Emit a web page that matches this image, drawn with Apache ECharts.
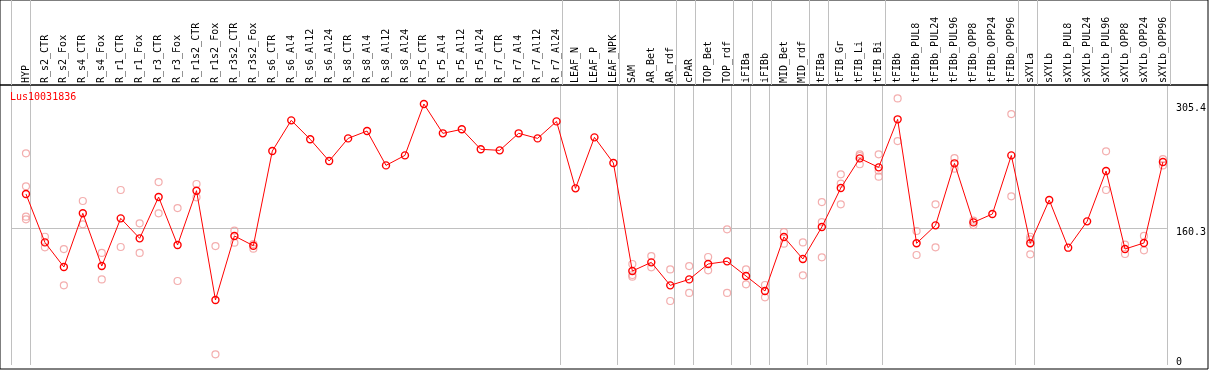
<!DOCTYPE html>
<html>
<head>
<meta charset="utf-8">
<title>Lus10031836</title>
<script src="https://cdn.jsdelivr.net/npm/echarts@6/dist/echarts.min.js"></script>
<style>
    body{margin:0;background:#fff;}
    #chart{width:1209px;height:370px;}
</style>
</head>
<body>
<div id="chart"></div>
<script>
// sample names, in plot order
var categories = ['HYP','R_s2_CTR','R_s2_Fox','R_s4_CTR','R_s4_Fox','R_r1_CTR','R_r1_Fox','R_r3_CTR','R_r3_Fox',
    'R_r1s2_CTR','R_r1s2_Fox','R_r3s2_CTR','R_r3s2_Fox','R_s6_CTR','R_s6_Al4','R_s6_Al12','R_s6_Al24',
    'R_s8_CTR','R_s8_Al4','R_s8_Al12','R_s8_Al24','R_r5_CTR','R_r5_Al4','R_r5_Al12','R_r5_Al24',
    'R_r7_CTR','R_r7_Al4','R_r7_Al12','R_r7_Al24','LEAF_N','LEAF_P','LEAF_NPK','SAM','AR_Bet','AR_rdf',
    'cPAR','TOP_Bet','TOP_rdf','iFIBa','iFIBb','MID_Bet','MID_rdf','tFIBa','tFIB_Gr','tFIB_Li','tFIB_Bi',
    'tFIBb','tFIBb_PUL8','tFIBb_PUL24','tFIBb_PUL96','tFIBb_OPP8','tFIBb_OPP24','tFIBb_OPP96',
    'sXYLa','sXYLb','sXYLb_PUL8','sXYLb_PUL24','sXYLb_PUL96','sXYLb_OPP8','sXYLb_OPP24','sXYLb_OPP96'];

// mean expression per sample
var means = [200.1,143.5,114.7,177.5,115.8,171.6,148.2,196.6,140.4,
    204.0,76.1,151.0,139.6,250.4,286.3,264.1,238.7,
    265.2,273.8,233.6,245.3,305.4,271.1,275.8,252.4,
    251.2,271.1,265.2,285.1,206.7,266.4,236.4,110.0,120.1,93.2,
    100.2,118.2,121.3,104.1,86.6,149.8,124.0,161.5,207.1,241.8,231.3,
    287.5,142.4,163.4,236.0,166.9,176.7,245.3,
    142.4,193.1,137.3,168.1,227.0,135.7,142.8,237.5];

// replicate values (null = no replicate shown)
var repA = [247.7,150.1,135.7,191.9,131.1,204.8,165.8,214.1,183.7,
    211.8,139.2,157.2,141.6,null,null,null,null,
    null,null,null,null,null,null,null,null,
    null,null,null,null,null,null,null,118.2,127.5,111.9,
    115.8,126.4,158.8,111.9,93.6,155.6,143.5,190.7,223.1,246.5,246.5,
    312.0,156.8,188.0,242.2,168.9,null,293.7,
    150.1,null,null,null,250.0,140.8,151.0,241.0];
var repB = [209.1,137.7,93.2,164.6,100.2,138.1,131.1,177.5,98.3,
    196.2,12.5,143.1,136.1,null,null,null,null,
    null,null,null,null,null,null,null,null,
    null,null,null,null,null,null,null,105.3,114.3,74.9,
    84.3,110.8,84.3,94.4,79.2,142.0,104.9,167.3,212.2,244.6,227.4,
    262.1,128.7,137.7,229.7,163.8,null,197.4,
    147.0,null,null,null,204.8,129.9,134.2,233.6];
var repC = [173.6,null,null,null,null,null,null,null,null,
    null,null,null,null,null,null,null,null,
    null,null,null,null,null,null,null,null,
    null,null,null,null,null,null,null,103.4,null,null,
    null,null,null,null,null,null,null,126.0,188.0,234.9,220.4,
    null,null,null,null,null,null,null,
    129.5,null,null,null,null,null,null,null];
var repD = [170.5];

// index where each sample group starts (grey separators)
var groupStarts = [0,1,29,32,35,36,38,39,40,42,43,46,53,54,61];

var yTicks = [0, 160.3, 305.4];
var yGrid = [160.3];

var shift = 0.79;   // points sit right of the column centre
var xMin = -shift, xMax = categories.length - shift;
var sepValues = groupStarts.map(function (k) { return k - shift; });
var monoFont = 'DejaVu Sans Mono';

var lineData = means.map(function (v, i) { return [i, v]; });
var repData = [];
[repA, repB, repC, repD].forEach(function (arr) {
    arr.forEach(function (v, i) {
        if (v !== null && v !== undefined) repData.push([i, v]);
    });
});

var chart = echarts.init(document.getElementById('chart'));
var option = {
    animation: false,
    title: {
        text: 'Lus10031836',
        left: 10, top: 92, padding: 0,
        textStyle: {color: '#ff0000', fontSize: 10, fontWeight: 'normal', fontFamily: monoFont}
    },
    grid: [
        {left: 11, right: 39, top: 86, bottom: 5},
        {left: 11, right: 39, top: 0, height: 85},
        {left: 0, right: 1, top: 0, height: 85, show: true, borderColor: '#000', borderWidth: 1, backgroundColor: 'transparent'},
        {left: 0, right: 1, top: 85, bottom: 1, show: true, borderColor: '#000', borderWidth: 1, backgroundColor: 'transparent'}
    ],
    xAxis: [
        {
            type: 'value', gridIndex: 0, position: 'top',
            min: xMin, max: xMax,
            axisLine: {show: false},
            axisTick: {show: false, customValues: sepValues},
            splitLine: {show: true, lineStyle: {color: '#c0c0c0', width: 1}},
            axisLabel: {
                show: true, rotate: 90, margin: 3,
                customValues: categories.map(function (c, i) { return i; }),
                formatter: function (v) { return categories[Math.round(v)]; },
                color: '#000', fontSize: 10, fontFamily: monoFont
            }
        },
        {
            type: 'value', gridIndex: 1,
            min: xMin, max: xMax,
            axisLine: {show: false},
            axisTick: {show: false, customValues: sepValues},
            axisLabel: {show: false},
            splitLine: {show: true, lineStyle: {color: '#c0c0c0', width: 1}}
        }
    ],
    yAxis: [
        {
            type: 'value', gridIndex: 0, position: 'right',
            min: 0, max: 326.5,
            axisLine: {show: false},
            axisTick: {show: false, customValues: yGrid},
            splitLine: {show: true, lineStyle: {color: '#c0c0c0', width: 1}},
            axisLabel: {
                customValues: yTicks, margin: 9,
                color: '#000', fontSize: 10, fontFamily: monoFont,
                // labels sit a little below their value, except the bottom one
                formatter: function (v) { return v === 0 ? '{lo|0}' : '{hi|' + v + '}'; },
                rich: {
                    hi: {color: '#000', fontSize: 10, fontFamily: monoFont, padding: [9, 0, 0, 0]},
                    lo: {color: '#000', fontSize: 10, fontFamily: monoFont, padding: [0, 0, 5, 0]}
                }
            }
        },
        {type: 'value', gridIndex: 1, min: 0, max: 1, show: false}
    ],
    series: [
        {
            name: 'replicates', type: 'scatter',
            xAxisIndex: 0, yAxisIndex: 0,
            symbol: 'circle', symbolSize: 7,
            itemStyle: {color: 'rgba(0,0,0,0)', borderColor: '#f09a9a', borderWidth: 1.2},
            data: repData
        },
        {
            name: 'Lus10031836', type: 'line',
            xAxisIndex: 0, yAxisIndex: 0,
            symbol: 'circle', symbolSize: 7,
            lineStyle: {color: '#ff0000', width: 1},
            itemStyle: {color: 'rgba(0,0,0,0)', borderColor: '#ff0000', borderWidth: 1.4},
            data: lineData
        }
    ]
};
chart.setOption(option);
</script>
</body>
</html>
